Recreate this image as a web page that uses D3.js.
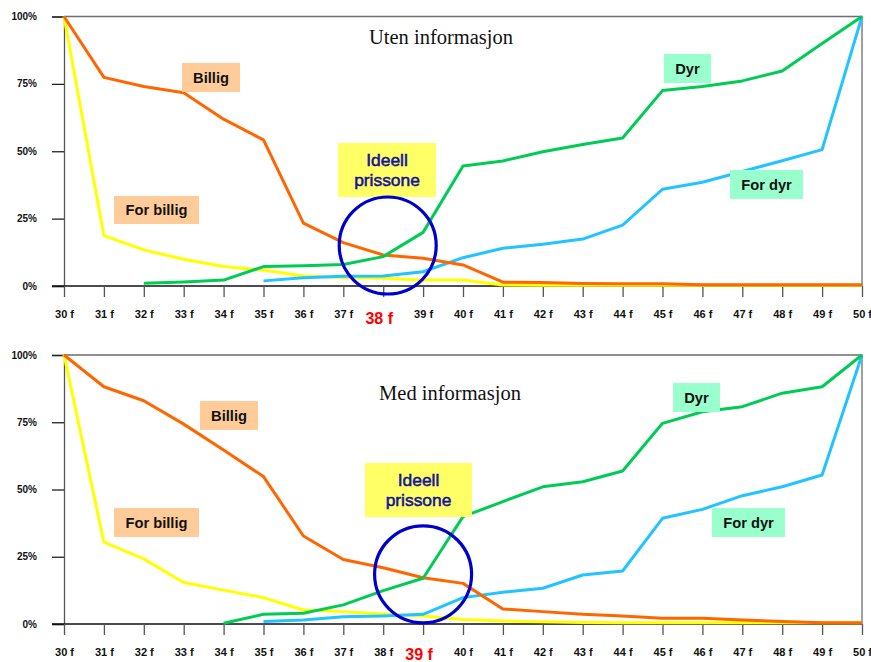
<!DOCTYPE html>
<html>
<head>
<meta charset="utf-8">
<script src="https://cdn.jsdelivr.net/npm/d3@7"></script>
<style>
  html, body { margin: 0; padding: 0; background: #ffffff; }
  svg { display: block; }
</style>
</head>
<body>
<svg id="chart" width="871" height="662"></svg>
<script>
// Price points (kroner) and their axis labels
const prices = [30, 31, 32, 33, 34, 35, 36, 37, 38, 39, 40, 41, 42, 43, 44, 45, 46, 47, 48, 49, 50];
const priceLabels = prices.map(p => p + " f");
const percentTicks = [0, 25, 50, 75, 100];
const percentLabels = ["0%", "25%", "50%", "75%", "100%"];

// Uten informasjon — share of answers (%) per price
const utenBillig    = [100, 77.4, 74.0, 71.7, 61.9, 54.2, 23.3, 16.1, 11.5, 10.3, 7.8, 1.4, 1.3, 0.9, 0.8, 0.8, 0.5, 0.5, 0.5, 0.5, 0.5];
const utenForBillig = [100, 18.7, 13.4, 9.9, 7.2, 5.9, 3.7, 3.2, 2.9, 2.2, 2.2, 0.4, 0.3, 0.3, 0.3, 0.3, 0.3, 0.3, 0.3, 0.3, 0.3];
const utenDyr       = [null, null, 1.0, 1.5, 2.2, 7.2, 7.5, 8.0, 10.9, 19.9, 44.5, 46.4, 49.8, 52.5, 54.9, 72.5, 74.0, 76.1, 79.8, 90.0, 100];
const utenForDyr    = [null, null, null, null, null, 1.9, 3.1, 3.6, 3.7, 5.3, 10.5, 14.0, 15.5, 17.4, 22.6, 35.9, 38.5, 42.5, 46.5, 50.6, 100];

// Med informasjon — share of answers (%) per price
const medBillig     = [100, 88.2, 83.0, 74.3, 64.7, 54.8, 32.7, 24.0, 20.9, 17.2, 15.1, 5.6, 4.6, 3.6, 3.0, 2.1, 2.1, 1.5, 0.9, 0.5, 0.5];
const medForBillig  = [100, 30.4, 24.2, 15.4, 12.6, 9.8, 5.2, 4.6, 3.7, 3.0, 1.7, 1.1, 0.8, 0.6, 0.5, 0.5, 0.5, 0.5, 0.5, 0.5, 0.5];
const medDyr        = [null, null, null, null, 0.3, 3.6, 4.0, 7.1, 12.4, 17.0, 39.9, 45.5, 51.0, 52.9, 56.9, 74.6, 78.9, 80.8, 85.8, 88.2, 100];
const medForDyr     = [null, null, null, null, null, 0.9, 1.5, 2.7, 3.0, 3.6, 9.8, 11.8, 13.3, 18.2, 19.7, 39.3, 42.6, 47.7, 51.0, 55.4, 100];

// Optimal price in each survey
const utenIdeal = 38;
const medIdeal = 39;

const colors = {
  billig: "#ff6600",
  forBillig: "#ffff00",
  dyr: "#00cc55",
  forDyr: "#22c4ff",
  circle: "#0000cc",
  peach: "#ffcc99",
  mint: "#99ffcc",
  yellowBox: "#ffff66"
};

const svg = d3.select("#chart");
const LEFT = 64, RIGHT = 862;

function drawPanel(cfg) {
  const g = svg.append("g");
  const x = d3.scaleLinear().domain([30, 50]).range([LEFT, RIGHT]);
  const y = d3.scaleLinear().domain([0, 100]).range([cfg.bottom, cfg.top]);

  // frame: top and right border
  g.append("path")
    .attr("d", `M${LEFT},${y(100)}H${RIGHT}V${y(0)}`)
    .attr("fill", "none").attr("stroke", "#6e6e6e").attr("stroke-width", 1.3);

  // y axis
  const yAxis = d3.axisLeft(y).tickValues(percentTicks).tickSize(12)
    .tickFormat((d, i) => percentLabels[i]);
  const ya = g.append("g").attr("transform", `translate(${LEFT},0)`).call(yAxis);
  ya.select(".domain").attr("stroke", "#555").attr("stroke-width", 1.3);
  ya.selectAll(".tick line").attr("stroke", "#222").attr("stroke-width", 1.3);
  ya.selectAll(".tick text")
    .attr("x", -27).attr("dy", "0.55em").attr("y", -2.5)
    .attr("font-family", "Liberation Sans, Arial, sans-serif")
    .attr("font-weight", "bold").attr("font-size", 10).attr("fill", "#111");

  // x axis
  const xAxis = d3.axisBottom(x).tickValues(prices).tickSize(11)
    .tickFormat((d, i) => priceLabels[i]);
  const xa = g.append("g").attr("transform", `translate(0,${y(0)})`).call(xAxis);
  xa.select(".domain").attr("stroke", "#111").attr("stroke-width", 1.3)
    .attr("d", `M${LEFT - 12},0H${RIGHT}`);
  xa.selectAll(".tick line").attr("stroke", "#555").attr("stroke-width", 1.3);
  xa.selectAll(".tick text")
    .attr("y", 24).attr("dy", "0.71em")
    .attr("font-family", "Liberation Sans, Arial, sans-serif")
    .attr("font-weight", "bold").attr("font-size", 11).attr("fill", "#111")
    .attr("opacity", d => d === cfg.ideal ? 0 : 1);

  // highlighted ideal price label
  g.append("text")
    .attr("x", x(cfg.ideal) - 4).attr("y", y(0) + cfg.idealLabelDy)
    .attr("text-anchor", "middle")
    .attr("font-family", "Liberation Sans, Arial, sans-serif")
    .attr("font-weight", "bold").attr("font-size", 16).attr("fill", "#ff0000")
    .text(priceLabels[prices.indexOf(cfg.ideal)]);

  // series lines
  const line = d3.line()
    .defined(d => d.v !== null)
    .x(d => x(d.p)).y(d => y(d.v));
  const series = [
    { values: cfg.forBillig, color: colors.forBillig },
    { values: cfg.forDyr, color: colors.forDyr },
    { values: cfg.billig, color: colors.billig },
    { values: cfg.dyr, color: colors.dyr }
  ];
  series.forEach(s => {
    g.append("path")
      .datum(prices.map((p, i) => ({ p, v: s.values[i] })))
      .attr("d", line)
      .attr("fill", "none").attr("stroke", s.color)
      .attr("stroke-width", 3).attr("stroke-linejoin", "round");
  });

  // title
  g.append("text")
    .attr("x", cfg.titleX).attr("y", cfg.titleY)
    .attr("text-anchor", "middle")
    .attr("font-family", "Liberation Serif, Times New Roman, serif")
    .attr("font-size", 20.5).attr("fill", "#111")
    .text(cfg.title);

  // labelled boxes
  cfg.boxes.forEach(b => {
    g.append("rect")
      .attr("x", b.x).attr("y", b.y).attr("width", b.w).attr("height", b.h)
      .attr("fill", b.fill);
    const lines = b.text.split("\n");
    const t = g.append("text")
      .attr("text-anchor", "middle")
      .attr("font-family", "Liberation Sans, Arial, sans-serif")
      .attr("font-weight", b.bold ? "bold" : "normal")
      .attr("font-size", b.size).attr("fill", b.color);
    if (b.outline) {
      t.attr("stroke", b.outline).attr("stroke-width", 0.5);
    }
    const lh = 20;
    const y0 = b.y + b.h / 2 - (lines.length - 1) * lh / 2;
    lines.forEach((ln, i) => {
      t.append("tspan").attr("x", b.x + b.w / 2).attr("y", y0 + i * lh)
        .attr("dy", "0.36em").text(ln);
    });
  });

  // ideal price zone marker
  g.append("circle")
    .attr("cx", x(cfg.ideal) + cfg.circleDx).attr("cy", cfg.circleCy)
    .attr("r", 48.5)
    .attr("fill", "none").attr("stroke", colors.circle).attr("stroke-width", 3.2);
}

drawPanel({
  top: 16.5, bottom: 286, ideal: utenIdeal, idealLabelDy: 38,
  billig: utenBillig, forBillig: utenForBillig, dyr: utenDyr, forDyr: utenForDyr,
  title: "Uten informasjon", titleX: 441, titleY: 44,
  circleDx: 4.5, circleCy: 245.5,
  boxes: [
    { text: "Billig", x: 182, y: 63, w: 58, h: 29, fill: colors.peach, color: "#111", bold: true, size: 14.7 },
    { text: "For billig", x: 114, y: 196, w: 85, h: 28, fill: colors.peach, color: "#111", bold: true, size: 14.7 },
    { text: "Dyr", x: 664, y: 54, w: 47, h: 29, fill: colors.mint, color: "#111", bold: true, size: 14.7 },
    { text: "For dyr", x: 730, y: 170, w: 73, h: 29, fill: colors.mint, color: "#111", bold: true, size: 14.7 },
    { text: "Ideell\nprissone", x: 338, y: 143, w: 98, h: 54, fill: colors.yellowBox, color: "#1414c8", outline: "#0a0a70", bold: false, size: 17.4 }
  ]
});

drawPanel({
  top: 355, bottom: 624, ideal: medIdeal, idealLabelDy: 35.5,
  billig: medBillig, forBillig: medForBillig, dyr: medDyr, forDyr: medForDyr,
  title: "Med informasjon", titleX: 450, titleY: 400,
  circleDx: 0, circleCy: 574.3,
  boxes: [
    { text: "Billig", x: 200, y: 401, w: 58, h: 29, fill: colors.peach, color: "#111", bold: true, size: 14.7 },
    { text: "For billig", x: 114, y: 508, w: 85, h: 29, fill: colors.peach, color: "#111", bold: true, size: 14.7 },
    { text: "Dyr", x: 673, y: 383, w: 47, h: 29, fill: colors.mint, color: "#111", bold: true, size: 14.7 },
    { text: "For dyr", x: 712, y: 508, w: 73, h: 29, fill: colors.mint, color: "#111", bold: true, size: 14.7 },
    { text: "Ideell\nprissone", x: 365, y: 463, w: 107, h: 54, fill: colors.yellowBox, color: "#1414c8", outline: "#0a0a70", bold: false, size: 17.4 }
  ]
});
</script>
</body>
</html>
